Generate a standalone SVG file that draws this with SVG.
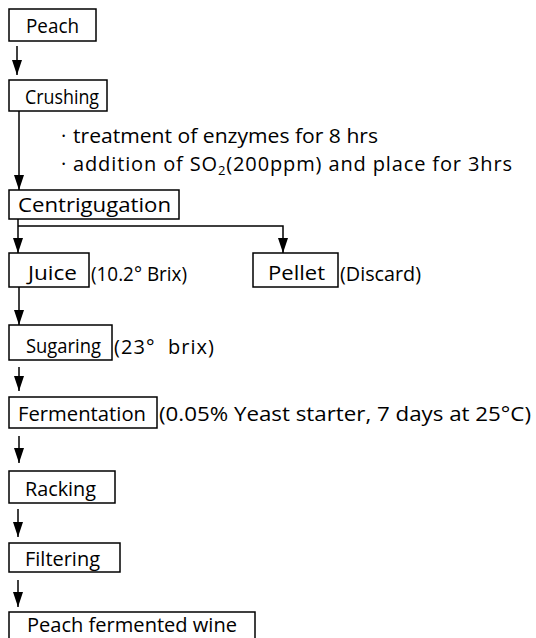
<svg xmlns="http://www.w3.org/2000/svg" width="536" height="638" viewBox="0 0 536 638">
<style>
  .box { fill: #fff; stroke: #000; stroke-width: 1.5; }
  .t { font-family: "Open Sans", "Noto Sans", "Liberation Sans", sans-serif; font-size: 20px; fill: #000; }
  .c { fill: none; stroke: #000; stroke-width: 1.5; }
</style>
<defs>
  <marker id="ahd" markerUnits="userSpaceOnUse" markerWidth="15" markerHeight="10" viewBox="0 0 15 10" refX="15" refY="5" orient="auto">
    <path d="M0,0 L15,5 L0,10 Z" fill="#000"/>
  </marker>
</defs>
<rect width="536" height="638" fill="#fff"/>

<g id="connectors">
  <path class="c" d="M17,46 V75" marker-end="url(#ahd)"/>
  <path class="c" d="M19,111 V190" marker-end="url(#ahd)"/>
  <path class="c" d="M18,219 V253" marker-end="url(#ahd)"/>
  <path class="c" d="M18,226 H283 V253" marker-end="url(#ahd)"/>
  <path class="c" d="M19,287 V325" marker-end="url(#ahd)"/>
  <path class="c" d="M19,367 V391" marker-end="url(#ahd)"/>
  <path class="c" d="M19,436 V463" marker-end="url(#ahd)"/>
  <path class="c" d="M18,509 V537" marker-end="url(#ahd)"/>
  <path class="c" d="M18,580 V607" marker-end="url(#ahd)"/>
</g>

<g id="peach">
  <rect class="box" x="9" y="9" width="87" height="32"/>
  <text class="t" x="26" y="33" textLength="53" lengthAdjust="spacingAndGlyphs">Peach</text>
</g>
<g id="crushing">
  <rect class="box" x="9" y="80" width="98" height="31"/>
  <text class="t" x="25" y="104" textLength="74" lengthAdjust="spacingAndGlyphs">Crushing</text>
</g>
<g id="notes">
  <text class="t" x="61" y="143">·</text>
  <text class="t" x="73" y="143" textLength="305" lengthAdjust="spacingAndGlyphs">treatment of enzymes for 8 hrs</text>
  <text class="t" x="61" y="171">·</text>
  <text class="t" x="73" y="171" textLength="439" lengthAdjust="spacing">addition of SO<tspan font-size="13" dy="4">2</tspan><tspan dy="-4">(200ppm) and place for 3hrs</tspan></text>
</g>
<g id="centrifugation">
  <rect class="box" x="9" y="190" width="170" height="29"/>
  <text class="t" x="18" y="212" textLength="153" lengthAdjust="spacingAndGlyphs">Centrigugation</text>
</g>
<g id="juice">
  <rect class="box" x="9" y="253" width="80" height="34"/>
  <text class="t" x="28" y="280" textLength="49" lengthAdjust="spacingAndGlyphs">Juice</text>
  <text class="t" x="91" y="281" textLength="96" lengthAdjust="spacingAndGlyphs">(10.2° Brix)</text>
</g>
<g id="pellet">
  <rect class="box" x="253" y="253" width="85" height="34"/>
  <text class="t" x="268" y="280" textLength="57" lengthAdjust="spacingAndGlyphs">Pellet</text>
  <text class="t" x="340" y="281" textLength="81" lengthAdjust="spacingAndGlyphs">(Discard)</text>
</g>
<g id="sugaring">
  <rect class="box" x="9" y="325" width="103" height="35"/>
  <text class="t" x="26" y="353" textLength="75" lengthAdjust="spacingAndGlyphs">Sugaring</text>
  <text class="t" x="114" y="354" textLength="100" lengthAdjust="spacing" xml:space="preserve">(23°  brix)</text>
</g>
<g id="fermentation">
  <rect class="box" x="9" y="397" width="148" height="31"/>
  <text class="t" x="18" y="421" textLength="128" lengthAdjust="spacingAndGlyphs">Fermentation</text>
  <text class="t" x="159" y="421" textLength="372" lengthAdjust="spacingAndGlyphs">(0.05% Yeast starter, 7 days at 25°C)</text>
</g>
<g id="racking">
  <rect class="box" x="9" y="471" width="106" height="32"/>
  <text class="t" x="25" y="496" textLength="71" lengthAdjust="spacingAndGlyphs">Racking</text>
</g>
<g id="filtering">
  <rect class="box" x="9" y="543" width="111" height="29"/>
  <text class="t" x="25" y="566" textLength="75" lengthAdjust="spacingAndGlyphs">Filtering</text>
</g>
<g id="wine">
  <rect class="box" x="9" y="612" width="246" height="34"/>
  <text class="t" x="27" y="632" textLength="210" lengthAdjust="spacingAndGlyphs">Peach fermented wine</text>
</g>
</svg>
